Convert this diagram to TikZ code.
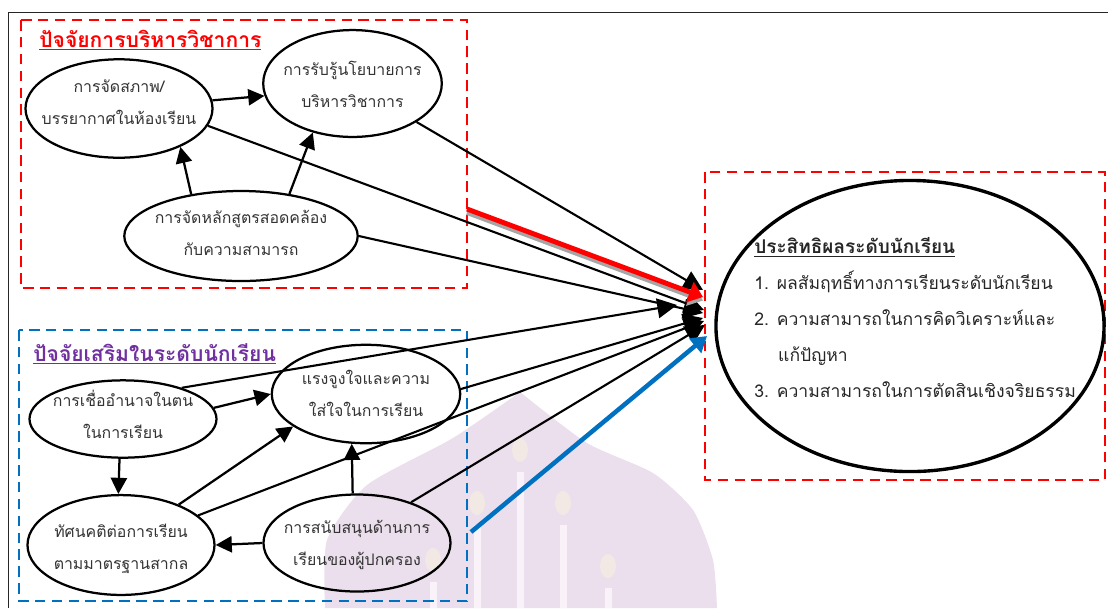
\documentclass[tikz,border=0pt]{standalone}
\usepackage{fontspec}
\usepackage{tikz}
\usetikzlibrary{shapes.geometric,arrows.meta}
\newfontfamily\thaifont[Script=Thai]{Loma}
\definecolor{boxred}{RGB}{255,0,0}
\definecolor{boxblue}{RGB}{0,112,192}
\definecolor{titlepurple}{RGB}{112,48,160}
\definecolor{wmark}{RGB}{236,223,237}
\definecolor{wflame}{RGB}{242,232,228}
\definecolor{wcandle}{RGB}{249,243,249}
\newcommand{\ovaltext}[3]{\makebox[0pt]{\raisebox{#1}[0pt][0pt]{\begin{tabular}{@{}c@{}}#2\\#3\end{tabular}}}}
\tikzset{
	oval/.style={ellipse, draw, line width=1.6pt, inner sep=0pt, text=black!80,
		font=\thaifont\fontsize{11.3}{22.7}\selectfont},
	arr/.style={-{Triangle[length=11.5pt,width=11.5pt]}, line width=1.6pt},
	longarr/.style={-{Triangle[length=14pt,width=14pt]}, line width=1.5pt},
	dashbox/.style={dash pattern=on 7.5pt off 4.5pt, line width=1.9pt},
	boxtitle/.style={anchor=west, inner sep=0pt, font=\thaifont\bfseries\fontsize{15}{18}\selectfont}
}
\begin{document}
\begin{tikzpicture}[x=0.025cm,y=-0.025cm]
	\useasboundingbox (0,0) rectangle (1108,608);
	% watermark
	\fill[wmark] plot[smooth, tension=0.4] coordinates {(325,608) (327,540) (367,485) (453,438) (520,392)}
		-- plot[smooth, tension=0.4] coordinates {(520,392) (587,443) (653,473) (693,510) (713,560) (717,608)} -- cycle;
	\foreach \cx/\ftop in {433/560, 477/503, 520/450, 563/503, 608/566} {
		\fill[wcandle] (\cx-3.5,\ftop+22) rectangle (\cx+3.5,608);
		\fill[wflame] (\cx,\ftop) ellipse (8 and 12);
	}
	% frame
	\draw[line width=0.7pt, black!85] (8,608) -- (8,12) -- (1108,12);
	% boxes
	\draw[dashbox, boxred] (21,20) rectangle (467,288);
	\draw[dashbox, boxblue] (19,330) rectangle (467,601);
	\draw[dashbox, boxred] (705,172) rectangle (1105,480);
	\node (t1) at (39,40) [boxtitle, text=boxred] {\underline{ปัจจัยการบริหารวิชาการ}};
	\node (t2) at (33,354) [boxtitle, text=titlepurple] {\underline{ปัจจัยเสริมในระดับนักเรียน}};
	% ovals
	\node (room) at (119,108.5) [oval, minimum width=133pt, minimum height=70pt] {\ovaltext{1.8pt}{การจัดสภาพ/}{บรรยากาศในห้องเรียน}};
	\node (policy) at (352.5,83.5) [oval, minimum width=127pt, minimum height=76pt] {\ovaltext{-3.9pt}{การรับรู้นโยบายการ}{บริหารวิชาการ}};
	\node (course) at (241,236) [oval, minimum width=166pt, minimum height=64pt] {\ovaltext{-0.7pt}{การจัดหลักสูตรสอดคล้อง}{กับความสามารถ}};
	\node (self) at (123,419) [oval, minimum width=133pt, minimum height=55pt] {\ovaltext{-0.7pt}{การเชื่ออำนาจในตน}{ในการเรียน}};
	\node (motive) at (366,394) [oval, minimum width=134pt, minimum height=70pt] {\ovaltext{-2.8pt}{แรงจูงใจและความ}{ใส่ใจในการเรียน}};
	\node (attitude) at (121,545) [oval, minimum width=133pt, minimum height=71pt] {\ovaltext{-4.2pt}{ทัศนคติต่อการเรียน}{ตามมาตรฐานสากล}};
	\node (parent) at (357,543) [oval, minimum width=133pt, minimum height=69pt] {\ovaltext{-2.8pt}{การสนับสนุนด้านการ}{เรียนของผู้ปกครอง}};
	\node (result) at (910,326) [ellipse, draw, line width=2.4pt, minimum width=276pt, minimum height=207pt] {};
	\node (resulttext) at (754,317.5) [anchor=west, inner sep=0pt, align=left, text=black!85,
		font=\thaifont\fontsize{12.5}{25.5}\selectfont]
		{{\bfseries\fontsize{13.5}{25.5}\selectfont\underline{ประสิทธิผลระดับนักเรียน}}\\
		1. ผลสัมฤทธิ์ทางการเรียนระดับนักเรียน\\
		2. ความสามารถในการคิดวิเคราะห์และ\\
		\hspace{17pt}แก้ปัญหา\\
		3. ความสามารถในการตัดสินเชิงจริยธรรม};
	% ends in front of the result box
	\coordinate (inb) at (703,290);
	\coordinate (inr) at (703,297);
	\coordinate (ina) at (704,310);
	\coordinate (inc) at (703,313);
	\coordinate (ind) at (677,305);
	\coordinate (ine) at (703,318);
	\coordinate (inf) at (704,321);
	\coordinate (ing) at (705,325);
	\coordinate (inl) at (707,336);
	\coordinate (fromr) at (467,209);
	\coordinate (froml) at (471,532);
	% inside the boxes
	\draw[arr] (room.5) to (policy.188);
	\draw[arr] (course.140) to (room.328);
	\draw[arr] (course.41) to (policy.231);
	\draw[arr] (self.7) to (motive.west);
	\draw[arr] (self.265) to (attitude.93);
	\draw[arr] (attitude.35) to (motive.204);
	\draw[arr] (parent.west) to (attitude.east);
	\draw[arr] (parent.95) to (motive.254);
	% to the result box
	\draw[longarr] (policy.329) to (inb);
	\draw[longarr] (room.349) to (ina);
	\draw[longarr] (course.east) to (inc);
	\draw[longarr] (self.28) to (ind);
	\draw[longarr] (motive.3) to (ine);
	\draw[longarr] (attitude.21) to (inf);
	\draw[longarr] (parent.37) to (ing);
	\draw[line width=3.5pt, black!35, -{Triangle[length=10pt,width=15pt]}] ([yshift=-2.5pt]fromr) to ([yshift=-2.5pt]inr);
	\draw[line width=3.5pt, boxred, -{Triangle[length=10pt,width=15pt]}] (fromr) to (inr);
	\draw[line width=3.2pt, boxblue, -{Triangle[length=11pt,width=13pt]}] (froml) to (inl);
\end{tikzpicture}
\end{document}
